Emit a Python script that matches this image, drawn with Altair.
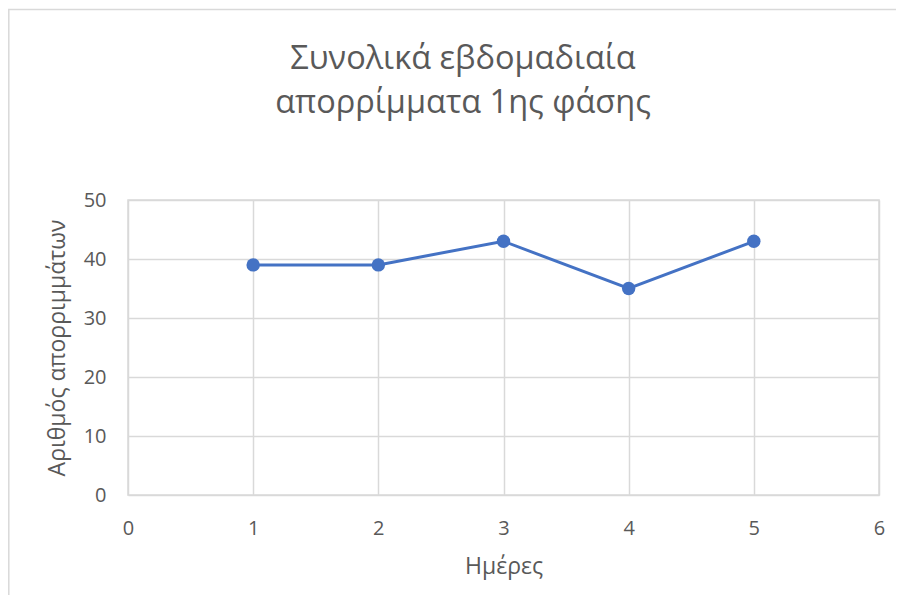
import altair as alt
import pandas as pd

days = [1, 2, 3, 4, 5]
waste = [39, 39, 43, 35, 43]
title_lines = ["Συνολικά εβδομαδιαία", "απορρίμματα 1ης φάσης"]
x_title = "Ημέρες"
y_title = "Αριθμός απορριμμάτων"

df = pd.DataFrame({"day": days, "waste": waste})

W, H = 751, 295
PL, PT, PR, PB = 120, 192, 17, 100

FONT = "Open Sans"
GREY = "#595959"
BLUE = "#4472C4"

frame = alt.Chart(pd.DataFrame({"a": [0]})).mark_rect(
    filled=False, stroke="#d9d9d9", strokeWidth=1.5
).encode(
    x=alt.value(-PL + 0.8), x2=alt.value(W + PR + 30),
    y=alt.value(-PT + 1.5), y2=alt.value(H + PB + 30),
)

t1 = alt.Chart(pd.DataFrame({"a": [0]})).mark_text(
    font=FONT, fontSize=32.5, color=GREY, align="center", baseline="alphabetic"
).encode(x=alt.value(335), y=alt.value(-131), text=alt.value(title_lines[0]))
t2 = alt.Chart(pd.DataFrame({"a": [0]})).mark_text(
    font=FONT, fontSize=32.5, color=GREY, align="center", baseline="alphabetic"
).encode(x=alt.value(335), y=alt.value(-87), text=alt.value(title_lines[1]))

base = alt.Chart(df).encode(
    x=alt.X("day:Q", scale=alt.Scale(domain=[0, 6], nice=False),
            axis=alt.Axis(values=[0, 1, 2, 3, 4, 5, 6], title=x_title,
                          grid=True, ticks=False, domain=False, labelFlush=False,
                          labelPadding=23, titlePadding=17)),
    y=alt.Y("waste:Q", scale=alt.Scale(domain=[0, 50], nice=False),
            axis=alt.Axis(values=[0, 10, 20, 30, 40, 50], title=y_title,
                          grid=True, ticks=False, domain=False, labelFlush=False,
                          labelPadding=22, titlePadding=14)),
)

line = base.mark_line(color=BLUE, strokeWidth=3)
pts = base.mark_point(filled=True, color=BLUE, size=180, opacity=1)

chart = alt.layer(frame, t1, t2, line, pts).properties(
    width=W, height=H,
    autosize=alt.AutoSizeParams(type="none"),
    padding={"left": PL, "top": PT, "right": PR, "bottom": PB},
).configure_view(stroke="#d9d9d9", strokeWidth=1.5).configure_axis(
    gridColor="#d9d9d9", gridWidth=1.5, labelColor=GREY, titleColor=GREY,
    labelFont=FONT, titleFont=FONT, labelFontSize=20, titleFontSize=23,
    titleFontWeight="normal",
)

chart.save("out.html", embed_options={"renderer": "svg", "actions": False})
